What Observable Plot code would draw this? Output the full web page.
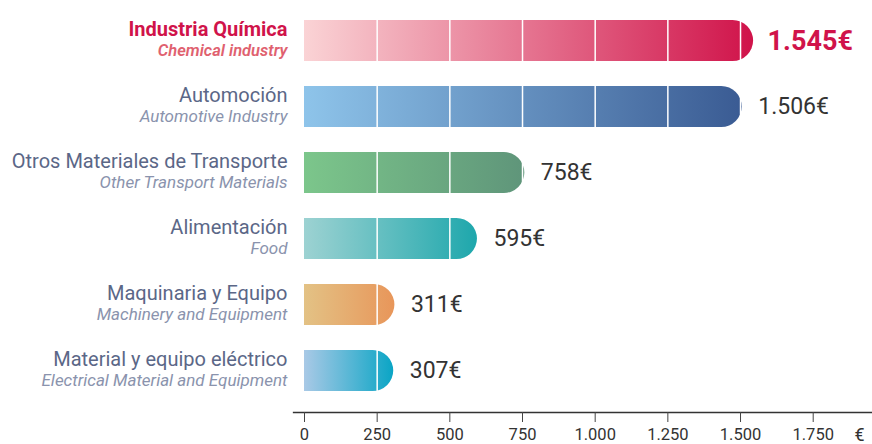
<!DOCTYPE html>
<html><head><meta charset="utf-8">
<script src="https://cdn.jsdelivr.net/npm/d3@7"></script>
<script src="https://cdn.jsdelivr.net/npm/@observablehq/plot@0.6"></script>
<style>html,body{margin:0;padding:0;background:#fff}#chart{width:872px;height:444px}</style>
</head><body><div id="chart"></div>
<script>
const categoriesES = ["Industria Química","Automoción","Otros Materiales de Transporte","Alimentación","Maquinaria y Equipo","Material y equipo eléctrico"];
const categoriesEN = ["Chemical industry","Automotive Industry","Other Transport Materials","Food","Machinery and Equipment","Electrical Material and Equipment"];
const values = [1545, 1506, 758, 595, 311, 307];
const colorsStart = ["#fad3d5","#8ec4ea","#7cc68b","#9dd2d2","#e3c285","#a9c9e6"];
const colorsEnd = ["#d0134a","#3a5b93","#5f957a","#1ea7ac","#e8965a","#0aa5c5"];
const xTicks = [0, 250, 500, 750, 1000, 1250, 1500, 1750];
const unitLabel = "€";
const highlightIndex = 0;

const data = categoriesES.map((c, i) => ({cat: c, en: categoriesEN[i], value: values[i], i}));
const grid = data.flatMap(d => xTicks.filter(t => t > 0 && t < d.value).map(t => ({cat: d.cat, t})));
const fmt = v => d3.format(",")(v).replace(/,/g, ".");
const hi = data.filter(d => d.i === highlightIndex);
const rest = data.filter(d => d.i !== highlightIndex);

const plot = Plot.plot({
  width: 872, height: 444,
  marginLeft: 293, marginRight: 0, marginTop: 0, marginBottom: 32,
  x: {domain: [0, 1750], range: [304, 812.7], axis: null},
  y: {domain: categoriesES, range: [17.7, 394.2], paddingInner: 0.372, paddingOuter: 0, axis: null},
  style: {fontFamily: "Roboto, sans-serif", fontSize: "16px", color: "#333", background: "#fff"},
  marks: [
    Plot.barX(data, {x: "value", y: "cat", fill: "#ccc"}),
    Plot.tickX(grid, {x: "t", y: "cat", stroke: "#fff", strokeWidth: 1.5}),
    Plot.frame({anchor: "bottom", stroke: "#333", strokeWidth: 1.3}),
    Plot.axisX({ticks: xTicks, tickFormat: fmt, tickSize: 10, tickPadding: 6, fontSize: 16.5, stroke: "#444", color: "#333"}),
    Plot.text([unitLabel], {frameAnchor: "bottom-right", textAnchor: "end", lineAnchor: "top", dx: -8, dy: 16, fontSize: 18, fill: "#333"}),
    // category labels
    Plot.text(hi, {y: "cat", text: "cat", frameAnchor: "left", textAnchor: "end", dx: -6, dy: -11, fontSize: 20, fontWeight: "bold", fill: "#d0134a"}),
    Plot.text(hi, {y: "cat", text: "en", frameAnchor: "left", textAnchor: "end", dx: -6, dy: 10, fontSize: 16.5, fontWeight: 600, fontStyle: "italic", fill: "#e0616f"}),
    Plot.text(rest, {y: "cat", text: "cat", frameAnchor: "left", textAnchor: "end", dx: -6, dy: -11, fontSize: 20, fill: "#5b6787"}),
    Plot.text(rest, {y: "cat", text: "en", frameAnchor: "left", textAnchor: "end", dx: -6, dy: 10, fontSize: 17, fontStyle: "italic", fill: "#8a93ad"}),
    // value labels
    Plot.text(rest, {x: "value", y: "cat", text: d => fmt(d.value) + "€", dx: 16, textAnchor: "start", fontSize: 23, fill: "#333"}),
    Plot.text(hi, {x: "value", y: "cat", text: d => fmt(d.value) + "€", dx: 14, textAnchor: "start", fontSize: 27, fontWeight: "bold", fill: "#d0134a"})
  ]
});

// gradients + rounded right caps
const ns = "http://www.w3.org/2000/svg";
const defs = document.createElementNS(ns, "defs");
data.forEach((d, i) => {
  const g = document.createElementNS(ns, "linearGradient");
  g.setAttribute("id", "grad" + i);
  g.setAttribute("x1", "0"); g.setAttribute("x2", "1"); g.setAttribute("y1", "0"); g.setAttribute("y2", "0");
  [[0, colorsStart[i]], [1, colorsEnd[i]]].forEach(([o, c]) => {
    const s = document.createElementNS(ns, "stop");
    s.setAttribute("offset", o); s.setAttribute("stop-color", c);
    g.appendChild(s);
  });
  defs.appendChild(g);
});
plot.insertBefore(defs, plot.firstChild);
plot.querySelectorAll('g[aria-label="bar"] rect').forEach(r => {
  const i = r.__data__;
  const x = +r.getAttribute("x"), y = +r.getAttribute("y"), w = +r.getAttribute("width"), h = +r.getAttribute("height");
  const ry = h / 2, rx = Math.min(ry, w);
  const p = document.createElementNS(ns, "path");
  p.setAttribute("d", `M${x},${y}H${x + w - rx}A${rx},${ry} 0 0 1 ${x + w},${y + ry}A${rx},${ry} 0 0 1 ${x + w - rx},${y + h}H${x}Z`);
  p.setAttribute("fill", `url(#grad${i})`);
  r.replaceWith(p);
});
document.getElementById("chart").appendChild(plot);
</script>
</body></html>
